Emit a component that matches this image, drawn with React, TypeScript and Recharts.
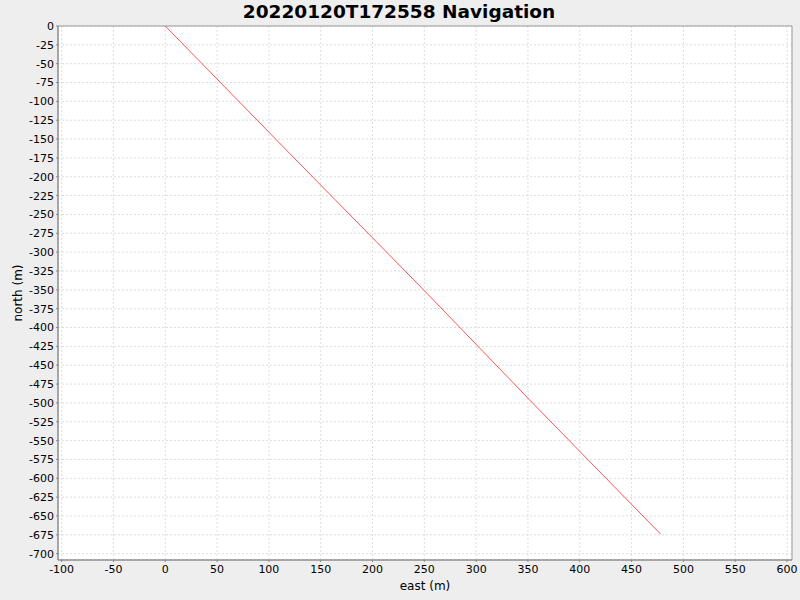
import React from "react";
import { LineChart, Line, XAxis, YAxis, CartesianGrid, Label, ReferenceArea } from "recharts";

// Track: straight run from the origin to the south-east.
const east = [0, 120, 250, 360, 478];
const north = [0, -169, -351, -508, -674];

const xTicks = [-100, -50, 0, 50, 100, 150, 200, 250, 300, 350, 400, 450, 500, 550, 600];
const yTicks = [
  0, -25, -50, -75, -100, -125, -150, -175, -200, -225, -250, -275, -300, -325, -350, -375, -400,
  -425, -450, -475, -500, -525, -550, -575, -600, -625, -650, -675, -700,
];

const X_DOMAIN: [number, number] = [-103.5, 604.8];
const Y_DOMAIN: [number, number] = [-708.4, 0];

const data = east.map((e, i) => ({ east: e, north: north[i] }));

const FONT = "'DejaVu Sans', sans-serif";
const tickStyle = { fontSize: 11, fill: "#000", fontFamily: FONT };

export default function App() {
  return (
    <div
      style={{
        position: "absolute",
        left: 0,
        top: 0,
        width: 800,
        height: 600,
        background: "#EEEEEE",
        fontFamily: FONT,
      }}
    >
      <div
        style={{
          position: "absolute",
          top: 1,
          left: 0,
          width: 798,
          textAlign: "center",
          fontSize: 18.5,
          fontWeight: "bold",
          color: "#000",
        }}
      >
        20220120T172558 Navigation
      </div>
      <LineChart width={800} height={600} data={data} margin={{ top: 26, right: 8, bottom: 0, left: 0 }}>
        <CartesianGrid stroke="#dddddd" strokeDasharray="2 2" fill="#fff" />
        <ReferenceArea
          x1={X_DOMAIN[0]}
          x2={X_DOMAIN[1]}
          y1={Y_DOMAIN[0]}
          y2={Y_DOMAIN[1]}
          stroke="#999"
          fill="none"
          fillOpacity={0}
        />
        <XAxis
          dataKey="east"
          type="number"
          domain={X_DOMAIN}
          ticks={xTicks}
          interval={0}
          height={40}
          tick={tickStyle}
          tickSize={2}
          tickMargin={3}
          stroke="#888"
          allowDataOverflow
        >
          <Label value="east (m)" position="insideBottom" offset={10} style={{ fontSize: 12, fill: "#000", fontFamily: FONT }} />
        </XAxis>
        <YAxis
          dataKey="north"
          type="number"
          domain={Y_DOMAIN}
          ticks={yTicks}
          interval={0}
          width={58}
          tick={tickStyle}
          tickSize={2}
          tickMargin={2}
          stroke="#888"
          allowDataOverflow
        >
          <Label
            value="north (m)"
            angle={-90}
            position="insideLeft"
            offset={18}
            style={{ fontSize: 12, fill: "#000", fontFamily: FONT, textAnchor: "middle" }}
          />
        </YAxis>
        <Line
          dataKey="north"
          stroke="#ff5555"
          strokeWidth={1}
          dot={false}
          isAnimationActive={false}
        />
      </LineChart>
    </div>
  );
}
